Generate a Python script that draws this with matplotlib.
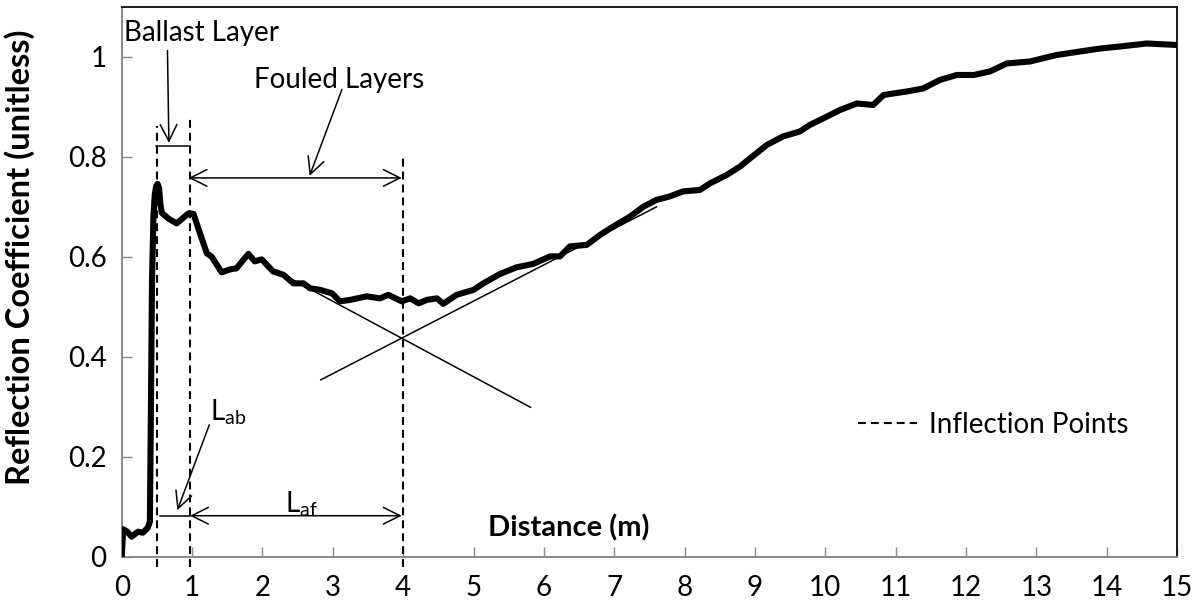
import matplotlib.pyplot as plt

plt.rcParams['font.family'] = ['Lato', 'DejaVu Sans']

# reflection coefficient profile along the track
distance = [0.0, 0.02, 0.08, 0.14, 0.23, 0.30, 0.37, 0.40, 0.415, 0.43, 0.45, 0.47,
            0.49, 0.51, 0.53, 0.55, 0.57, 0.66, 0.78, 0.95, 1.02, 1.11, 1.21, 1.28, 1.42,
            1.54, 1.63, 1.80, 1.89, 1.99, 2.15, 2.30, 2.44, 2.58, 2.68, 2.82, 2.99,
            3.10, 3.25, 3.48, 3.67, 3.79, 3.98, 4.10, 4.22, 4.34, 4.48, 4.57, 4.76,
            5.00, 5.14, 5.38, 5.61, 5.85, 6.09, 6.23, 6.37, 6.61, 6.80, 6.99, 7.23,
            7.41, 7.60, 7.79, 7.98, 8.22, 8.36, 8.60, 8.79, 8.93, 9.17, 9.40, 9.64,
            9.78, 9.97, 10.21, 10.45, 10.68, 10.83, 11.16, 11.39, 11.63, 11.87, 12.11,
            12.34, 12.58, 12.91, 13.29, 13.62, 13.91, 14.19, 14.57, 15.0]
reflection = [0.0, 0.055, 0.05, 0.04, 0.05, 0.048, 0.058, 0.07, 0.30, 0.55, 0.68, 0.725,
              0.742, 0.746, 0.738, 0.705, 0.688, 0.677, 0.667, 0.687, 0.686, 0.648, 0.607, 0.600, 0.569,
              0.575, 0.577, 0.606, 0.591, 0.595, 0.571, 0.564, 0.547, 0.547, 0.537, 0.534, 0.527,
              0.511, 0.514, 0.521, 0.517, 0.524, 0.511, 0.517, 0.507, 0.514, 0.517, 0.506, 0.524,
              0.534, 0.547, 0.566, 0.579, 0.586, 0.601, 0.601, 0.621, 0.624, 0.644, 0.661, 0.681,
              0.700, 0.714, 0.721, 0.731, 0.734, 0.747, 0.764, 0.781, 0.797, 0.824, 0.841, 0.851,
              0.864, 0.877, 0.894, 0.907, 0.904, 0.924, 0.931, 0.937, 0.954, 0.964, 0.964,
              0.971, 0.987, 0.991, 1.004, 1.011, 1.017, 1.021, 1.027, 1.024]

# inflection points and the height of each marker line
inflect_x = [0.5, 0.97, 4.0]
inflect_top = [0.862, 0.878, 0.798]

# tangent lines meeting at the fouled layer inflection point
tangent_down_x = [2.3, 5.81]
tangent_down_y = [0.564, 0.299]
tangent_up_x = [2.83, 7.6]
tangent_up_y = [0.354, 0.70]

x_ticks = list(range(0, 16))
y_ticks = [0, 0.2, 0.4, 0.6, 0.8, 1]
y_tick_labels = ['0', '0.2', '0.4', '0.6', '0.8', '1']

fig = plt.figure(figsize=(12.03, 6.15), dpi=100)
ax = fig.add_axes([0.1012, 0.0948, 0.8772, 0.8938])

ax.plot(distance, reflection, color='black', lw=4.4, solid_joinstyle='round',
        solid_capstyle='round', zorder=5)
ax.plot(tangent_down_x, tangent_down_y, color='black', lw=1.1, zorder=4)
ax.plot(tangent_up_x, tangent_up_y, color='black', lw=1.1, zorder=4)

for i, (xv, top) in enumerate(zip(inflect_x, inflect_top)):
    ax.plot([xv, xv], [-0.02, top], color='black', lw=1.5,
            linestyle=(0, (3.8, 2.4)), clip_on=False,
            label='Inflection Points' if i == 0 else None, zorder=3)

fs = 20
arrow = dict(color='black', lw=1.1, shrinkA=0, shrinkB=0, mutation_scale=20)
head = ', head_length=0.6, head_width=0.3'

# ballast layer bracket and pointer
ax.plot([0.49, 0.97], [0.822, 0.822], color='black', lw=1.1)
ax.annotate('', xy=(0.67, 0.828), xytext=(0.65, 1.013),
            arrowprops=dict(arrowstyle='->' + head, **arrow))
ax.text(0.03, 1.048, 'Ballast Layer', fontsize=fs, ha='left', va='center')

# fouled layers span and pointer
ax.annotate('', xy=(0.95, 0.758), xytext=(3.98, 0.758),
            arrowprops=dict(arrowstyle='<->' + head, **arrow))
ax.annotate('', xy=(2.67, 0.762), xytext=(3.13, 0.935),
            arrowprops=dict(arrowstyle='->' + head, **arrow))
ax.text(3.09, 0.953, 'Fouled Layers', fontsize=fs, ha='center', va='center')

# depth spans near the axis
ax.plot([0.55, 0.97], [0.082, 0.082], color='black', lw=1.1)
ax.annotate('', xy=(0.97, 0.082), xytext=(3.98, 0.082),
            arrowprops=dict(arrowstyle='<->' + head, **arrow))
ax.annotate('', xy=(0.79, 0.093), xytext=(1.245, 0.264),
            arrowprops=dict(arrowstyle='->' + head, **arrow))
ax.text(1.25, 0.274, r'L$_\mathregular{ab}$', fontsize=fs, ha='left', va='baseline')
ax.text(2.32, 0.09, r'L$_\mathregular{af}$', fontsize=fs, ha='left', va='baseline')

ax.text(6.35, 0.057, 'Distance (m)', fontsize=21, fontweight='bold', ha='center', va='center')
ax.set_ylabel('Reflection Coefficient (unitless)', fontsize=23.5, fontweight='bold')
ax.yaxis.set_label_coords(-0.082, 0.545)

ax.set_xlim(0, 15)
ax.set_ylim(0, 1.1)
ax.set_xticks(x_ticks)
ax.set_yticks(y_ticks)
ax.set_yticklabels(y_tick_labels)
ax.tick_params(direction='in', length=7.5, width=1, color='#898989', labelsize=fs)
ax.tick_params(axis='x', pad=13)
ax.tick_params(axis='y', pad=11)

for side in ['left', 'bottom']:
    ax.spines[side].set_color('#898989')
    ax.spines[side].set_linewidth(1.4)
for side in ['top', 'right']:
    ax.spines[side].set_color('#1a1a1a')
    ax.spines[side].set_linewidth(1.4)

ax.legend(loc='center left', bbox_to_anchor=(0.698, 0.24), frameon=False, fontsize=fs,
          handlelength=2.1, handletextpad=0.45, borderpad=0, borderaxespad=0)

fig.savefig('out.png', dpi=100)
